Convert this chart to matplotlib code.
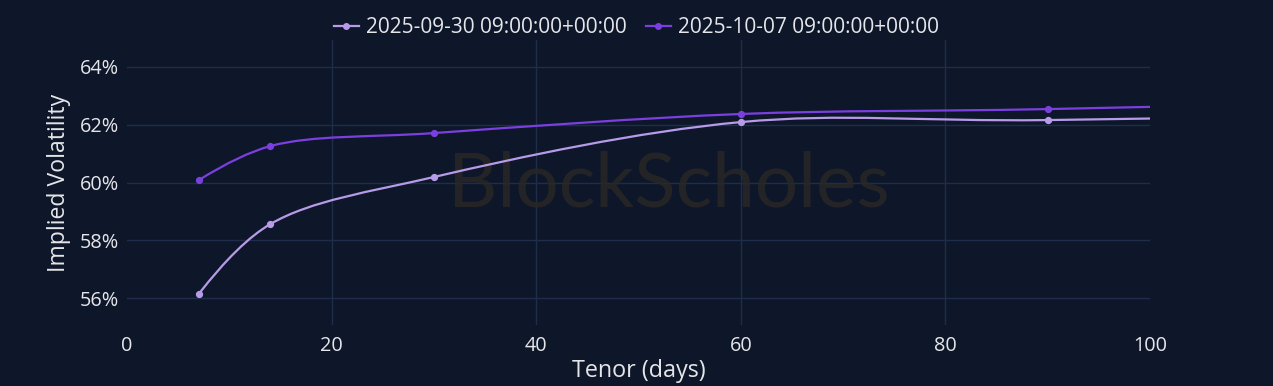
import numpy as np
import matplotlib
matplotlib.use("Agg")
import matplotlib.pyplot as plt
from matplotlib.path import Path
from matplotlib.patches import PathPatch
from matplotlib.lines import Line2D

plt.rcParams['font.family'] = ['Open Sans', 'DejaVu Sans']

tenors = [7, 14, 30, 60, 90, 180]
iv_0930 = [56.14, 58.56, 60.19, 62.09, 62.16, 62.75]
iv_1007 = [60.08, 61.26, 61.71, 62.37, 62.54, 63.30]
labels = ["2025-09-30 09:00:00+00:00", "2025-10-07 09:00:00+00:00"]
colors = ["#b79be8", "#7b3fe0"]
yticks = [56, 58, 60, 62, 64]
xticks = [0, 20, 40, 60, 80, 100]

BG = "#0e1729"
GRID = "#1f2c4a"
TXT = "#e6e6ea"

fig = plt.figure(figsize=(12.73, 3.86), dpi=100, facecolor=BG)
ax = fig.add_axes([0.0998, 0.158, 0.8036, 0.7384], facecolor=BG)
ax.set_xlim(0, 100)
ax.set_ylim(55.07, 64.93)
fig.canvas.draw()


def tangent(p0, p1, p2, s=1.0):
    d1 = p0 - p1
    d2 = p2 - p1
    d1a = np.hypot(*d1) ** 0.5
    d2a = np.hypot(*d2) ** 0.5
    num = (d2a * d2a * d1 - d1a * d1a * d2) * s
    den1 = 3 * d2a * (d1a + d2a)
    den2 = 3 * d1a * (d1a + d2a)
    return p1 + num / den1, p1 - num / den2


def spline_path(xs, ys):
    pts = ax.transData.transform(np.column_stack([xs, ys]))
    tans = [tangent(pts[i - 1], pts[i], pts[i + 1]) for i in range(1, len(pts) - 1)]
    verts = [pts[0], tans[0][0], pts[1]]
    codes = [Path.MOVETO, Path.CURVE3, Path.CURVE3]
    for i in range(2, len(pts) - 1):
        verts += [tans[i - 2][1], tans[i - 1][0], pts[i]]
        codes += [Path.CURVE4] * 3
    verts += [tans[-1][1], pts[-1]]
    codes += [Path.CURVE3] * 2
    inv = ax.transData.inverted()
    return Path(inv.transform(np.array(verts)), codes)


for ys, c in zip([iv_0930, iv_1007], colors):
    p = spline_path(tenors, ys)
    ax.add_patch(PathPatch(p, facecolor='none', edgecolor=c, lw=1.6, zorder=3,
                           capstyle='round'))
    ax.plot(tenors, ys, linestyle='none', marker='o', ms=4.2, color=c, zorder=4,
            clip_on=True)

ax.set_xticks(xticks)
ax.set_yticks(yticks)
ax.set_yticklabels([f"{v}%" for v in yticks])
ax.tick_params(colors=TXT, labelsize=14.3, length=0, pad=8)
ax.tick_params(axis='y', pad=6)
for sp in ax.spines.values():
    sp.set_visible(False)
ax.grid(False)
for v in yticks:
    ax.axhline(v, color=GRID, lw=1, zorder=1)
for v in [20, 40, 60, 80]:
    ax.axvline(v, color=GRID, lw=1, zorder=1)

ax.set_xlabel("Tenor (days)", color=TXT, fontsize=16.8, labelpad=2)
ax.set_ylabel("Implied Volatility", color=TXT, fontsize=16.6, labelpad=6)

ax.text(0.53, 0.49, "BlockScholes", transform=ax.transAxes, ha='center', va='center',
        fontsize=55, color="#2a2826", alpha=0.8, zorder=2, family=['Lato', 'DejaVu Sans'])

handles = [Line2D([], [], color=c, lw=1.6, marker='o', ms=4) for c in colors]
leg = fig.legend(handles, labels, loc='center', bbox_to_anchor=(0.5, 0.928), ncol=2,
                 frameon=False, fontsize=15, labelcolor=TXT, handlelength=1.2,
                 handletextpad=0.35, columnspacing=0.9)

fig.savefig("out.png", dpi=100, facecolor=BG)
